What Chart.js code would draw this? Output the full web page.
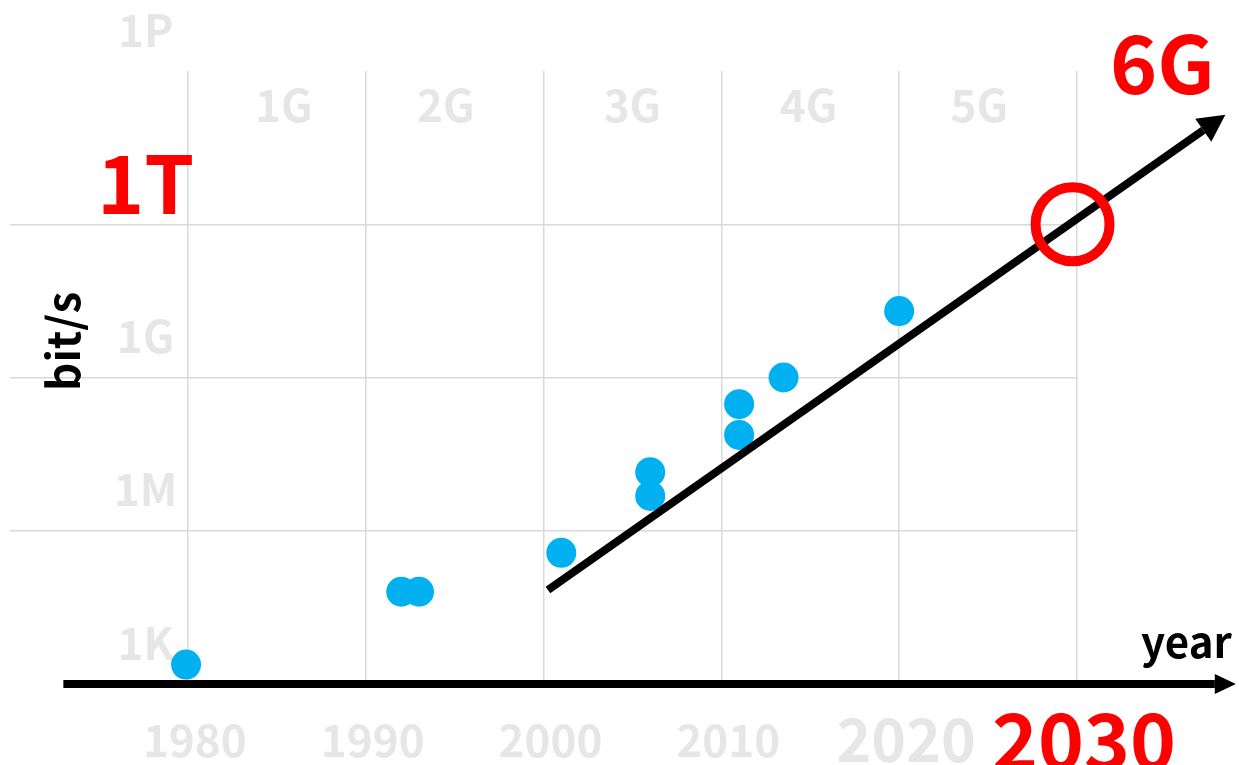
<!DOCTYPE html>
<html>
<head>
<meta charset="utf-8">
<script src="https://cdn.jsdelivr.net/npm/chart.js@4.4.1/dist/chart.umd.min.js"></script>
<style>
  html, body { margin: 0; padding: 0; background: #fff; }
  #wrap { position: relative; width: 1239px; height: 765px; }
</style>
</head>
<body>
<div id="wrap"><canvas id="myChart"></canvas></div>
<script>
// measured data points: year vs peak rate (bit/s)
var pointYears = [1979.9, 1992, 1993, 2001, 2006, 2006, 2011, 2011, 2013.5, 2020];
var pointRates = [2.4e3, 6.4e4, 6.4e4, 3.7e5, 1.4e7, 4.8e6, 3.0e8, 7.5e7, 1.0e9, 2.0e10];

// trend arrow (start, end of shaft)
var trendYears = [2000.25, 2037.1];
var trendRates = [6.9e4, 6.9e13];

// 6G target
var targetYears = [2029.75];
var targetRates = [1e12];

// axes
var xTicks = [1980, 1990, 2000, 2010, 2020, 2030];
var xTickLabels = ["1980", "1990", "2000", "2010", "2020", "2030"];
var yTicks = [1e3, 1e6, 1e9, 1e12, 1e15];
var yTickLabels = ["1K", "1M", "1G", "1T", "1P"];

// generations
var genLabels = ["1G", "2G", "3G", "4G", "5G"];
var genYears = [1985.4, 1994.5, 2005, 2014.9, 2024.5];

var FONT = '"Noto Sans CJK JP", "Noto Sans", sans-serif';
var GRAY = "#e6e6e6";
var RED = "#ff0000";

function toXY(xs, ys) {
	var out = [];
	for (var i = 0; i < xs.length; i++) out.push({ x: xs[i], y: ys[i] });
	return out;
}

var decorations = {
	id: "decorations",
	afterDatasetsDraw: function (chart) {
		var ctx = chart.ctx;
		var xs = chart.scales.x;
		var ys = chart.scales.y;
		ctx.save();

		// x axis arrow
		var ay = ys.getPixelForValue(yTicks[0]);
		var ax0 = xs.getPixelForValue(1973);
		var ax1 = xs.getPixelForValue(2037.75);
		ctx.strokeStyle = "#000";
		ctx.fillStyle = "#000";
		ctx.lineWidth = 8;
		ctx.beginPath();
		ctx.moveTo(ax0, ay);
		ctx.lineTo(ax1, ay);
		ctx.stroke();
		ctx.beginPath();
		ctx.moveTo(ax1 + 21, ay);
		ctx.lineTo(ax1, ay - 10);
		ctx.lineTo(ax1, ay + 10);
		ctx.closePath();
		ctx.fill();

		// trend arrow head
		var pts = chart.getDatasetMeta(1).data;
		var p0 = pts[0], p1 = pts[pts.length - 1];
		var dx = p1.x - p0.x, dy = p1.y - p0.y;
		var len = Math.sqrt(dx * dx + dy * dy);
		var ux = dx / len, uy = dy / len;
		ctx.beginPath();
		ctx.moveTo(p1.x + ux * 27, p1.y + uy * 27);
		ctx.lineTo(p1.x - uy * 14, p1.y + ux * 14);
		ctx.lineTo(p1.x + uy * 14, p1.y - ux * 14);
		ctx.closePath();
		ctx.fill();

		// generation labels
		ctx.textAlign = "center";
		ctx.textBaseline = "middle";
		ctx.fillStyle = GRAY;
		ctx.font = "bold 44px " + FONT;
		var gy = ys.getPixelForValue(2.1e14);
		for (var i = 0; i < genLabels.length; i++) {
			ctx.fillText(genLabels[i], xs.getPixelForValue(genYears[i]), gy);
		}

		// 6G
		ctx.fillStyle = RED;
		ctx.font = "bold 80px " + FONT;
		ctx.fillText("6G", xs.getPixelForValue(2034.8), ys.getPixelForValue(1.4e15));

		// year
		ctx.fillStyle = "#000";
		ctx.font = "bold 42px " + FONT;
		ctx.textAlign = "right";
		ctx.textBaseline = "alphabetic";
		ctx.fillText("year", ax1 + 17, ay - 26);

		// bit/s
		ctx.translate(xs.getPixelForValue(1973), ys.getPixelForValue(5.1e9));
		ctx.rotate(-Math.PI / 2);
		ctx.textAlign = "center";
		ctx.textBaseline = "middle";
		ctx.font = "bold 44px " + FONT;
		ctx.fillText("bit/s", 0, 0);

		ctx.restore();
	},
};

document.addEventListener("DOMContentLoaded", function () {
	var ctx = document.getElementById("myChart").getContext("2d");
	var myChart = new Chart(ctx, {
		type: "scatter",
		data: {
			datasets: [
				{
					label: "6G",
					data: toXY(targetYears, targetRates),
					pointRadius: 37,
					pointBorderWidth: 10,
					pointBorderColor: RED,
					pointBackgroundColor: "rgba(0,0,0,0)",
					clip: false,
				},
				{
					type: "line",
					label: "trend",
					data: toXY(trendYears, trendRates),
					borderColor: "#000",
					borderWidth: 8,
					borderCapStyle: "butt",
					pointRadius: 0,
					tension: 0,
					fill: false,
					clip: false,
				},
				{
					label: "systems",
					data: toXY(pointYears, pointRates),
					pointRadius: 15,
					pointBorderWidth: 0,
					pointBackgroundColor: "#00b0f0",
				},
			],
		},
		options: {
			responsive: true,
			maintainAspectRatio: false,
			animation: false,
			layout: { autoPadding: false, padding: { left: 10, right: 162, top: 71, bottom: 0 } },
			plugins: {
				legend: { display: false },
				tooltip: { enabled: false },
			},
			scales: {
				x: {
					type: "linear",
					min: 1970,
					max: 2030,
					bounds: "data",
					afterBuildTicks: function (s) {
						s.ticks = xTicks.map(function (v) { return { value: v }; });
					},
					afterFit: function (s) {
						s.height = 81;
						s.paddingLeft = 0;
						s.paddingRight = 0;
					},
					grid: { color: "#d9d9d9", lineWidth: 1.5, drawTicks: false },
					border: { display: false },
					ticks: {
						autoSkip: false,
						maxRotation: 0,
						padding: 31,
						labelOffset: 7,
						callback: function (v, i) { return xTickLabels[i]; },
						color: function (c) { return c.index === 5 ? RED : GRAY; },
						font: function (c) {
							var size = c.index === 5 ? 78 : (c.index === 4 ? 59 : 44);
							return { family: FONT, size: size, weight: "bold", lineHeight: "50px" };
						},
					},
				},
				y: {
					type: "logarithmic",
					min: 1e3,
					max: 1e15,
					bounds: "data",
					afterBuildTicks: function (s) {
						s.ticks = yTicks.map(function (v) { return { value: v }; });
					},
					afterFit: function (s) {
						s.width = 0;
						s.paddingTop = 0;
						s.paddingBottom = 0;
					},
					grid: {
						color: function (c) {
							if (!c.tick) return "#d9d9d9";
							return (c.tick.value === 1e3 || c.tick.value === 1e15) ? "rgba(0,0,0,0)" : "#d9d9d9";
						},
						lineWidth: 1.5,
						drawTicks: false,
					},
					border: { display: false },
					ticks: {
						autoSkip: false,
						mirror: true,
						crossAlign: "center",
						padding: 87,
						labelOffset: -41,
						callback: function (v, i) { return yTickLabels[i]; },
						color: function (c) { return c.index === 3 ? RED : GRAY; },
						font: function (c) {
							var size = c.index === 3 ? 80 : 44;
							return { family: FONT, size: size, weight: "bold" };
						},
					},
				},
			},
		},
		plugins: [decorations],
	});
});
</script>
</body>
</html>
